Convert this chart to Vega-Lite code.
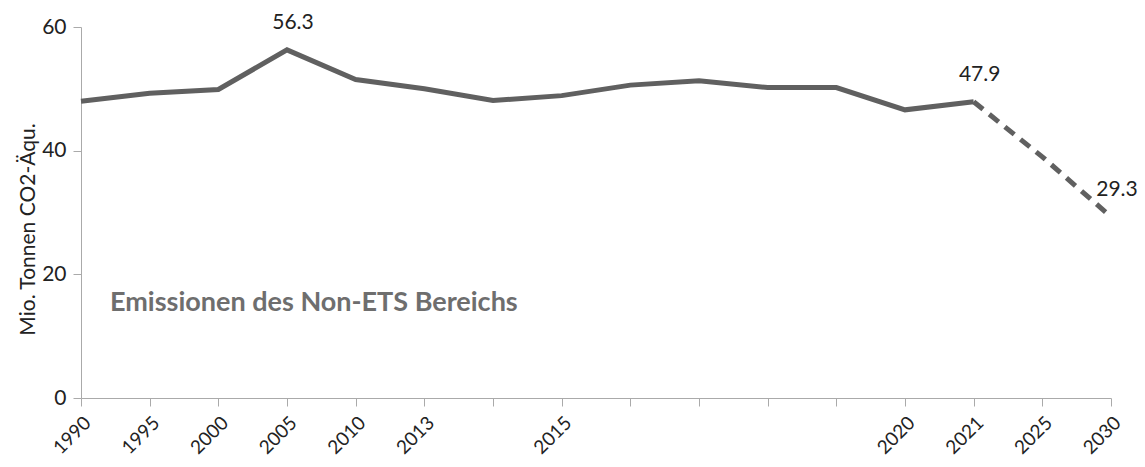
{
  "$schema": "https://vega.github.io/schema/vega-lite/v6.json",
  "autosize": "none",
  "width": 1030,
  "height": 371,
  "padding": {"left": 81, "top": 27, "right": 34, "bottom": 69},
  "background": "white",
  "config": {"view": {"stroke": null}, "font": "Lato"},
  "datasets": {
    "hist": [
      {"yr": "1990", "value": 48.0},
      {"yr": "1995", "value": 49.3},
      {"yr": "2000", "value": 49.9},
      {"yr": "2005", "value": 56.3},
      {"yr": "2010", "value": 51.5},
      {"yr": "2013", "value": 50.0},
      {"yr": "2014", "value": 48.1},
      {"yr": "2015", "value": 48.9},
      {"yr": "2016", "value": 50.6},
      {"yr": "2017", "value": 51.3},
      {"yr": "2018", "value": 50.2},
      {"yr": "2019", "value": 50.2},
      {"yr": "2020", "value": 46.6},
      {"yr": "2021", "value": 47.9}
    ],
    "proj": [
      {"yr": "2021", "value": 47.9},
      {"yr": "2025", "value": 39.0},
      {"yr": "2030", "value": 29.3}
    ],
    "labels": [
      {"yr": "2005", "value": 56.3, "text": "56.3"},
      {"yr": "2021", "value": 47.9, "text": "47.9"},
      {"yr": "2030", "value": 29.3, "text": "29.3"}
    ],
    "note": [
      {"yr": "1990", "value": 15.3, "text": "Emissionen des Non-ETS Bereichs"}
    ]
  },
  "encoding": {
    "x": {
      "field": "yr",
      "type": "ordinal",
      "sort": null,
      "scale": {"type": "point", "padding": 0, "domain": ["1990","1995","2000","2005","2010","2013","2014","2015","2016","2017","2018","2019","2020","2021","2025","2030"]},
      "axis": {
        "title": null,
        "labelAngle": -45,
        "labelFontSize": 19,
        "labelColor": "#222222",
        "labelPadding": 7,
        "labelExpr": "indexof(['2014','2016','2017','2018','2019'], datum.value) >= 0 ? '' : datum.value",
        "domainColor": "#aaaaaa",
        "tickColor": "#aaaaaa",
        "tickSize": 8,
        "grid": false,
        "labelOverlap": false
      }
    },
    "y": {
      "field": "value",
      "type": "quantitative",
      "scale": {"domain": [0, 60], "nice": false},
      "axis": {
        "title": "Mio. Tonnen CO2-Äqu.",
        "titleFontSize": 21,
        "titleFontWeight": "normal",
        "titleColor": "#222222",
        "titleY": 202,
        "titlePadding": 3,
        "values": [0, 20, 40, 60],
        "labelFontSize": 21,
        "labelColor": "#222222",
        "labelPadding": 7,
        "domainColor": "#aaaaaa",
        "tickColor": "#aaaaaa",
        "tickSize": 8,
        "grid": false
      }
    }
  },
  "layer": [
    {
      "data": {"name": "hist"},
      "mark": {"type": "line", "color": "#606060", "strokeWidth": 5, "strokeJoin": "miter"}
    },
    {
      "data": {"name": "proj"},
      "mark": {"type": "line", "color": "#606060", "strokeWidth": 5, "strokeDash": [12, 8]}
    },
    {
      "data": {"name": "labels"},
      "mark": {"type": "text", "fontSize": 21, "color": "#222222", "dy": -27, "dx": 6, "baseline": "middle"},
      "encoding": {"text": {"field": "text"}}
    },
    {
      "data": {"name": "note"},
      "mark": {"type": "text", "fontSize": 27, "fontWeight": "bold", "color": "#6e6e6e", "align": "left", "baseline": "middle", "dx": 29},
      "encoding": {"text": {"field": "text"}}
    }
  ]
}
